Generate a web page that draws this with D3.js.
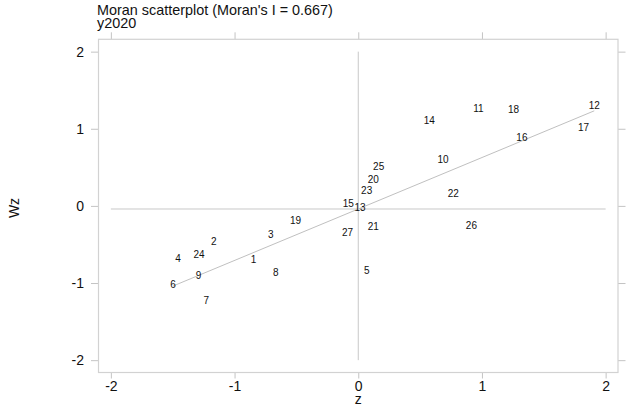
<!DOCTYPE html>
<html>
<head>
<meta charset="utf-8">
<script src="https://cdn.jsdelivr.net/npm/d3@7"></script>
<style>
  body { margin: 0; background: #fff; }
  text { font-family: "Liberation Sans", Arial, sans-serif; }
</style>
</head>
<body>
<div class="report"></div>
<script>
// region ids and their (z, Wz) values
var ids = ["1","2","3","4","5","6","7","8","9","10","11","12","13","14","15","16","17","18","19","20","21","22","23","24","25","26","27"];
var zValues = [-0.847,-1.168,-0.707,-1.457,0.068,-1.498,-1.228,-0.666,-1.292,0.686,0.972,1.908,0.014,0.575,-0.081,1.323,1.822,1.255,-0.507,0.121,0.121,0.769,0.068,-1.287,0.165,0.915,-0.086];
var wzValues = [-0.697,-0.464,-0.377,-0.688,-0.844,-1.017,-1.225,-0.861,-0.905,0.597,1.269,1.308,-0.026,1.104,0.026,0.887,1.017,1.247,-0.195,0.338,-0.273,0.165,0.195,-0.636,0.516,-0.251,-0.351];

var xTicks = [-2, -1, 0, 1, 2];
var yTicks = [-2, -1, 0, 1, 2];

var moranI = 0.667;
var meanWz = -0.04;     // horizontal reference line and fit intercept
var title = "Moran scatterplot (Moran's I = " + moranI.toFixed(3) + ")";
var subtitle = "y2020";

var width = 632, height = 420,
    margin = {top: 39.3, right: 14, bottom: 47.5, left: 98.5};

var svg = d3.select(".report").append("svg")
    .attr("width", width).attr("height", height);

var x = d3.scaleLinear().domain([-2.1, 2.1]).range([margin.left, width - margin.right]);
var y = d3.scaleLinear().domain([-2.16, 2.16]).range([height - margin.bottom, margin.top]);

var frameColor = "#d2d2d2", tickColor = "#c4c4c4";

function styleAxis(g) {
    g.select(".domain").remove();
    g.selectAll(".tick line").attr("stroke", tickColor);
    g.selectAll(".tick text").attr("fill", "#111").style("font-size", "14px");
}

// plain hyphen minus like the original
var fmt = function (d) { return String(d); };

svg.append("g")
    .attr("transform", "translate(" + margin.left + ",0)")
    .call(d3.axisLeft(y).tickValues(yTicks).tickSize(7.5).tickPadding(7).tickFormat(fmt))
    .call(styleAxis);

svg.append("g")
    .attr("transform", "translate(" + (width - margin.right) + ",0)")
    .call(d3.axisRight(y).tickValues(yTicks).tickSize(7.5).tickFormat(""))
    .call(styleAxis);

svg.append("g")
    .attr("transform", "translate(0," + (height - margin.bottom) + ")")
    .call(d3.axisBottom(x).tickValues(xTicks).tickSize(6).tickPadding(2.5).tickFormat(fmt))
    .call(styleAxis);

svg.append("g")
    .attr("transform", "translate(0," + margin.top + ")")
    .call(d3.axisTop(x).tickValues(xTicks).tickSize(7).tickFormat(""))
    .call(styleAxis);

svg.append("rect")
    .attr("x", margin.left).attr("y", margin.top)
    .attr("width", width - margin.left - margin.right)
    .attr("height", height - margin.top - margin.bottom)
    .attr("fill", "none").attr("stroke", frameColor).attr("stroke-width", 1.2);

// reference lines
svg.append("line")
    .attr("x1", x(0)).attr("x2", x(0))
    .attr("y1", y(2)).attr("y2", y(-2))
    .attr("stroke", "#c8c8c8").attr("stroke-width", 1);

svg.append("line")
    .attr("x1", x(-2)).attr("x2", x(2))
    .attr("y1", y(meanWz)).attr("y2", y(meanWz))
    .attr("stroke", "#c8c8c8").attr("stroke-width", 1);

// fitted line, slope = Moran's I
var zExtent = d3.extent(zValues);
svg.append("line")
    .attr("x1", x(zExtent[0])).attr("y1", y(meanWz + moranI * zExtent[0]))
    .attr("x2", x(zExtent[1])).attr("y2", y(meanWz + moranI * zExtent[1]))
    .attr("stroke", "#c0c0c0").attr("stroke-width", 1);

// point labels used as markers
var points = ids.map(function (id, i) { return {id: id, z: zValues[i], wz: wzValues[i]}; });

svg.append("g").selectAll("text")
    .data(points)
    .enter().append("text")
    .attr("x", function (d) { return x(d.z); })
    .attr("y", function (d) { return y(d.wz); })
    .attr("text-anchor", "middle")
    .attr("dominant-baseline", "central")
    .style("font-size", "10px")
    .attr("fill", "#111")
    .text(function (d) { return d.id; });

// titles
svg.append("text")
    .attr("x", 97).attr("y", 15)
    .style("font-size", "14.4px").attr("fill", "#111")
    .text(title);

svg.append("text")
    .attr("x", 97).attr("y", 27.5)
    .style("font-size", "14.4px").attr("fill", "#111")
    .text(subtitle);

svg.append("text")
    .attr("x", x(0)).attr("y", 404)
    .attr("text-anchor", "middle")
    .style("font-size", "14px").attr("fill", "#111")
    .text("z");

svg.append("text")
    .attr("transform", "translate(14,208) rotate(-90)")
    .attr("text-anchor", "middle")
    .attr("dominant-baseline", "central")
    .style("font-size", "14px").attr("fill", "#111")
    .text("Wz");
</script>
</body>
</html>
